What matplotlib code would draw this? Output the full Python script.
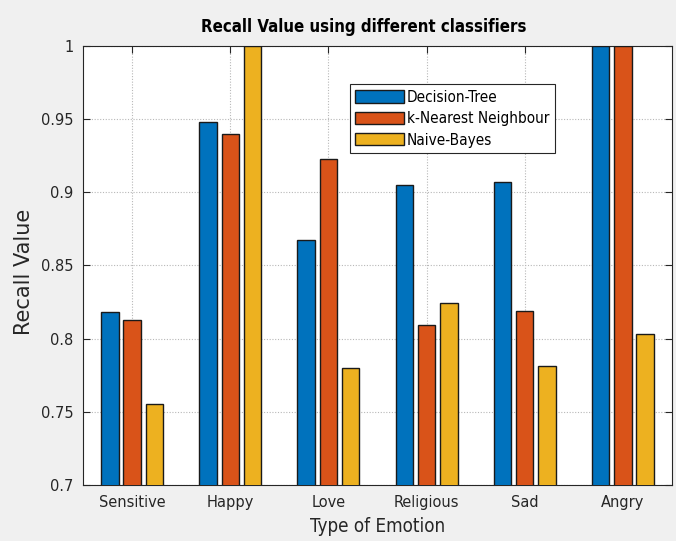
import numpy as np
import matplotlib
matplotlib.use("Agg")
import matplotlib.pyplot as plt

plt.rcParams['font.family'] = ['DejaVu Sans']
plt.rcParams['font.stretch'] = 'condensed'

emotions = ['Sensitive', 'Happy', 'Love', 'Religious', 'Sad', 'Angry']
decision_tree = [0.818, 0.948, 0.867, 0.905, 0.907, 1.0]
knn = [0.8125, 0.940, 0.9225, 0.8095, 0.819, 1.0]
naive_bayes = [0.755, 1.0, 0.780, 0.824, 0.781, 0.803]
series_names = ['Decision-Tree', 'k-Nearest Neighbour', 'Naive-Bayes']
colors = ['#0072bd', '#d95319', '#edb120']

fig = plt.figure(figsize=(6.76, 5.41), dpi=100, facecolor='#f0f0f0')
ax = fig.add_axes([0.1228, 0.1035, 0.8712, 0.812])

x = np.arange(1, len(emotions) + 1)
offset = 0.227
width = 0.178
for i, (vals, name, c) in enumerate(zip([decision_tree, knn, naive_bayes], series_names, colors)):
    ax.bar(x + (i - 1) * offset, vals, width, color=c, edgecolor='#1a1a1a',
           linewidth=1.0, label=name, zorder=3)

ax.set_xlim(0.5, 6.5)
ax.set_ylim(0.7, 1.0)
ax.set_xticks(x)
ax.set_xticklabels(emotions)
ax.set_yticks([0.7, 0.75, 0.8, 0.85, 0.9, 0.95, 1.0])
ax.set_yticklabels(['0.7', '0.75', '0.8', '0.85', '0.9', '0.95', '1'])
ax.tick_params(direction='in', top=True, right=True, labelsize=11.7, length=5,
               width=0.8, colors='#262626', pad=7)
ax.grid(True, linestyle=(0, (1, 1.5)), color='#b8b8b8', linewidth=0.8, zorder=0)
for s in ax.spines.values():
    s.set_color('#262626')
    s.set_linewidth(0.8)

ax.set_title('Recall Value using different classifiers', fontsize=12.1,
             fontweight='bold', x=0.477, pad=10)
ax.set_xlabel('Type of Emotion', fontsize=13.5, labelpad=5, color='#262626')
ax.set_ylabel('Recall Value', fontsize=15, fontstretch='normal', color='#262626')
ax.yaxis.set_label_coords(-0.084, 0.485)

leg = ax.legend(loc='upper left', bbox_to_anchor=(0.453, 0.912), fontsize=11,
                fancybox=False, edgecolor='#262626', framealpha=1,
                handlelength=3.2, handleheight=0.85, labelspacing=0.42,
                handletextpad=0.2, borderpad=0.35, borderaxespad=0)
leg.get_frame().set_linewidth(0.8)

fig.savefig('out.png', dpi=100, facecolor=fig.get_facecolor())
